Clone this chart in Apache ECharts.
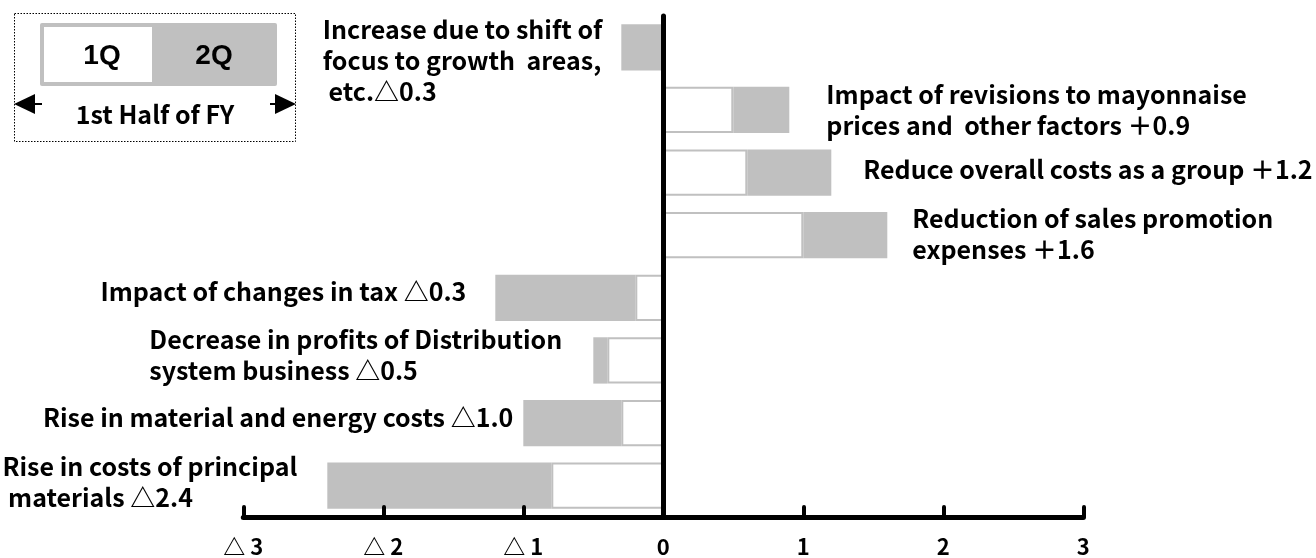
<!DOCTYPE html>
<html>
<head>
<meta charset="utf-8">
<script src="https://cdn.jsdelivr.net/npm/echarts@6/dist/echarts.min.js"></script>
<style>
html,body{margin:0;padding:0;background:#fff;}
#chart{width:1316px;height:558px;}
</style>
</head>
<body>
<div id="chart"></div>
<script>
// ---- data ----
const categories = [
  'Shift of focus to growth areas',
  'Mayonnaise price revisions',
  'Overall group cost reduction',
  'Sales promotion expenses',
  'Changes in tax',
  'Distribution system business',
  'Material and energy costs',
  'Principal materials costs'
];
const q1Values = [0, 0.5, 0.6, 1.0, -0.2, -0.4, -0.3, -0.8];
const q2Values = [-0.3, 0.4, 0.6, 0.6, -1.0, -0.1, -0.7, -1.6];
const labelLines = [
  ['Increase due to shift of', 'focus to growth  areas,', ' etc.△0.3'],
  ['Impact of revisions to mayonnaise', 'prices and  other factors ＋0.9'],
  ['Reduce overall costs as a group ＋1.2'],
  ['Reduction of sales promotion', 'expenses ＋1.6'],
  ['Impact of changes in tax △0.3'],
  ['Decrease in profits of Distribution', 'system business △0.5'],
  ['Rise in material and energy costs △1.0'],
  ['Rise in costs of principal', ' materials △2.4']
];
const xTicks = [-3, -2, -1, 0, 1, 2, 3];
const legendQuarters = ['1Q', '2Q'];
const legendSpan = '1st Half of FY';

// ---- label layout (gap from bar end, vertical shift) ----
const labelGap = [19, 37, 32, 25, 29, 31, 10, 30];
const labelShift = [13, 0, -3, -1, -6, -5, -6, -4];

const FONT = "'Noto Sans CJK JP', 'Noto Sans', sans-serif";
const GRAY = '#c0c0c0';

const chart = echarts.init(document.getElementById('chart'), null, {renderer: 'canvas'});

const q2Data = q2Values.map((v, i) => {
  const total = q1Values[i] + v;
  const neg = total < 0;
  return {
    value: v,
    label: {
      show: true,
      position: neg ? 'left' : 'right',
      distance: labelGap[i],
      offset: [0, labelShift[i]],
      formatter: labelLines[i].map(l => '{l|' + l + '}').join('\n'),
      rich: { l: { align: 'left', fontFamily: FONT, fontSize: 25, fontWeight: 'bold', color: '#000', lineHeight: 31 } }
    }
  };
});

const option = {
  animation: false,
  backgroundColor: '#fff',
  grid: { left: 243.3, right: 232.7, top: 16, bottom: 41, containLabel: false },
  xAxis: {
    type: 'value', min: -3, max: 3, interval: 1,
    axisLine: { show: true, onZero: false, lineStyle: { color: '#000000', width: 5, cap: 'round' } },
    axisTick: { show: true, inside: true, length: 10, lineStyle: { color: '#000000', width: 4, cap: 'round' } },
    splitLine: { show: false },
    axisLabel: {
      margin: 19, color: '#000', fontFamily: FONT, fontSize: 22, fontWeight: 'bold',
      formatter: v => (xTicks.indexOf(v) >= 0 ? (v < 0 ? '△ ' + (-v) : String(v)) : '')
    },
    z: 5
  },
  yAxis: {
    type: 'category', data: categories, inverse: true,
    axisLine: { show: true, onZero: true, lineStyle: { color: '#000000', width: 5, cap: 'round' } },
    axisTick: { show: false },
    axisLabel: { show: false },
    splitLine: { show: false },
    z: 5
  },
  series: [
    {
      name: '1Q', type: 'bar', stack: 'h', barCategoryGap: '26%',
      data: q1Values,
      itemStyle: { color: '#fff', borderColor: GRAY, borderWidth: 2 },
      z: 2
    },
    {
      name: '2Q', type: 'bar', stack: 'h', barCategoryGap: '26%',
      data: q2Data,
      itemStyle: { color: GRAY },
      z: 2
    }
  ],
  graphic: [
    { type: 'rect', shape: { x: 14.5, y: 13.5, width: 281, height: 128 },
      style: { fill: 'none', stroke: '#000', lineWidth: 1, lineDash: [1.5, 1.5] } },
    { type: 'rect', shape: { x: 40, y: 23, width: 237, height: 63, r: 2 }, style: { fill: GRAY } },
    { type: 'rect', shape: { x: 44, y: 27, width: 108, height: 55 }, style: { fill: '#fff' } },
    { type: 'text', x: 102, y: 56, style: { text: legendQuarters[0], fontFamily: 'Liberation Sans', fontWeight: 'bold', fontSize: 28, fill: '#000', align: 'center', verticalAlign: 'middle' } },
    { type: 'text', x: 214, y: 56, style: { text: legendQuarters[1], fontFamily: 'Liberation Sans', fontWeight: 'bold', fontSize: 28, fill: '#000', align: 'center', verticalAlign: 'middle' } },
    { type: 'line', shape: { x1: 32, y1: 104, x2: 42, y2: 104 }, style: { stroke: '#000', lineWidth: 2 } },
    { type: 'polygon', shape: { points: [[14, 104], [35, 94], [35, 114]] }, style: { fill: '#000' } },
    { type: 'line', shape: { x1: 270, y1: 104, x2: 278, y2: 104 }, style: { stroke: '#000', lineWidth: 2 } },
    { type: 'polygon', shape: { points: [[296, 104], [275, 94], [275, 114]] }, style: { fill: '#000' } },
    { type: 'text', x: 155, y: 114, style: { text: legendSpan, fontFamily: FONT, fontWeight: 'bold', fontSize: 25, fill: '#000', align: 'center', verticalAlign: 'middle' } }
  ]
};
chart.setOption(option);
</script>
</body>
</html>
